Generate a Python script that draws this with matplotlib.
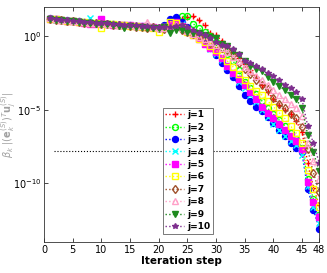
import numpy as np
import matplotlib
matplotlib.use("Agg")
import matplotlib.pyplot as plt

# log10 of beta_k |(e_k)^T u_j| per iteration step
steps = list(range(1, 49))

j1 = [1.22, 1.15, 1.10, 1.08, 1.04, 1.00, 0.97, 0.95, 0.90, 0.88,
      0.85, 0.82, 0.80, 0.76, 0.74, 0.70, 0.68, 0.66, 0.62, 0.60,
      0.62, 0.70, 0.95, 1.20, 1.30, 1.35, 1.10, 0.75, 0.20, 0.07,
      -0.30, -0.70, -1.10, -1.50, -1.90, -2.30, -2.80, -3.30, -3.80, -4.30,
      -4.70, -5.00, -5.30, -5.80, -6.50, -8.60, -10.30, -11.50]
j2 = [1.20, 1.16, 1.12, 1.06, 1.05, 1.01, 0.96, 0.93, 0.91, 0.87,
      0.86, 0.80, 0.79, 0.77, 0.72, 0.71, 0.66, 0.64, 0.63, 0.58,
      0.65, 0.85, 1.10, 1.35, 1.35, 0.85, 0.55, 0.30, 0.00, -0.40,
      -0.80, -1.20, -1.70, -2.30, -3.10, -3.50, -3.90, -4.40, -4.90, -5.30,
      -5.70, -6.10, -6.60, -7.00, -7.60, -9.70, -11.10, -12.20]
j3 = [1.21, 1.14, 1.11, 1.07, 1.03, 1.02, 0.96, 0.94, 0.89, 0.86,
      0.84, 0.81, 0.78, 0.75, 0.73, 0.69, 0.67, 0.63, 0.61, 0.59,
      0.75, 1.20, 1.30, 1.00, 0.60, 0.30, 0.00, -0.40, -0.80, -1.30,
      -1.80, -2.30, -2.80, -3.40, -4.00, -4.40, -4.80, -5.10, -5.50, -5.90,
      -6.40, -6.80, -7.30, -7.60, -7.90, -10.40, -11.80, -13.10]
j4 = [1.19, 1.13, 1.09, 1.06, 1.02, 0.99, 0.95, 1.25, 0.90, 0.86,
      0.83, 0.81, 0.77, 0.74, 0.72, 0.68, 0.65, 0.62, 0.60, 0.57,
      0.60, 0.75, 0.95, 0.80, 0.50, 0.20, -0.10, -0.50, -0.90, -1.20,
      -1.60, -2.10, -2.60, -3.10, -3.50, -4.00, -4.50, -5.00, -5.50, -6.00,
      -6.40, -6.80, -7.10, -7.40, -8.10, -10.20, -11.60, -12.70]
j5 = [1.20, 1.15, 1.10, 1.05, 1.04, 1.00, 0.90, 0.85, 0.80, 1.20,
      0.84, 0.79, 0.78, 0.74, 0.73, 0.69, 0.67, 0.64, 0.61, 0.58,
      0.62, 0.80, 1.00, 0.70, 0.40, 0.10, -0.20, -0.50, -0.80, -1.10,
      -1.50, -2.00, -2.50, -2.90, -3.30, -3.80, -4.30, -4.80, -5.20, -5.60,
      -6.00, -6.40, -6.80, -7.10, -7.70, -9.90, -11.30, -12.30]
j6 = [1.18, 1.14, 1.09, 1.05, 1.02, 0.98, 0.94, 0.90, 0.88, 0.55,
      0.82, 0.80, 0.76, 0.73, 0.71, 0.67, 0.65, 0.60, 0.55, 0.30,
      0.60, 1.00, 0.90, 0.60, 0.30, 0.10, -0.20, -0.40, -0.70, -0.95,
      -1.30, -1.70, -2.10, -2.60, -3.00, -3.40, -3.70, -4.00, -4.40, -4.80,
      -5.20, -5.60, -6.10, -6.60, -7.30, -9.10, -10.40, -11.60]
j7 = [1.19, 1.13, 1.08, 1.03, 1.03, 0.99, 0.93, 0.92, 0.87, 0.85,
      0.81, 0.78, 0.74, 0.70, 0.69, 0.66, 0.62, 0.56, 0.60, 0.55,
      0.50, 0.55, 0.60, 0.45, 0.30, 0.15, 0.00, -0.20, -0.45, -0.60,
      -0.80, -0.95, -1.30, -1.80, -2.20, -2.60, -3.00, -3.30, -3.60, -4.20,
      -4.60, -4.90, -5.30, -5.60, -6.20, -7.70, -9.30, -10.60]
j8 = [1.24, 1.16, 1.12, 1.07, 1.05, 1.01, 0.97, 0.93, 0.90, 0.87,
      0.85, 0.82, 0.79, 0.75, 0.74, 0.72, 0.69, 1.00, 0.62, 0.58,
      0.55, 0.60, 0.75, 0.55, 0.35, 0.15, -0.05, -0.20, -0.40, -0.60,
      -0.80, -1.10, -1.40, -1.70, -2.10, -2.40, -2.70, -3.00, -3.30, -3.65,
      -4.00, -4.30, -4.60, -4.90, -5.40, -7.30, -8.50, -9.70]
j9 = [1.18, 1.12, 1.07, 1.04, 1.01, 0.97, 0.92, 0.89, 0.86, 0.83,
      0.80, 0.76, 0.72, 0.55, 0.70, 0.65, 0.62, 0.58, 0.56, 0.55,
      0.60, 0.25, 0.45, 0.40, 0.30, 0.25, 0.20, 0.10, -0.05, -0.15,
      -0.50, -0.70, -1.00, -1.30, -1.70, -2.00, -2.20, -2.40, -2.80, -3.10,
      -3.40, -3.65, -4.00, -4.30, -4.90, -6.70, -7.90, -9.20]
j10 = [1.22, 1.17, 1.13, 1.09, 1.06, 1.03, 0.98, 0.96, 0.92, 0.90,
       0.87, 0.84, 0.81, 0.78, 0.76, 0.73, 0.71, 0.68, 0.64, 0.62,
       0.60, 0.65, 0.70, 0.75, 0.60, 0.40, 0.20, 0.05, -0.15, -0.40,
       -0.60, -0.70, -0.90, -1.20, -1.70, -1.80, -2.00, -2.20, -2.50, -2.70,
       -3.00, -3.30, -3.50, -3.80, -4.30, -6.10, -7.30, -8.60]

series = [j1, j2, j3, j4, j5, j6, j7, j8, j9, j10]
labels = [f"j={i}" for i in range(1, 11)]

# threshold line
thresh_level = 10 ** -7.8
thresh_x = [1.8, 43.5]

colors = ["#ff0000", "#00ff00", "#0000ff", "#00ffff", "#ff00ff",
          "#ffff00", "#a0522d", "#ffa0c8", "#1f8a1f", "#7e2f8e"]
markers = ["+", "o", "o", "x", "s", "s", "d", "^", "v", "*"]
filled = [True, False, True, True, True, False, False, False, True, True]

fig = plt.figure(figsize=(3.27, 2.73), dpi=100)
ax = fig.add_axes([0.135, 0.114, 0.841, 0.861])

for ys, lab, c, m, f in zip(series, labels, colors, markers, filled):
    ax.semilogy(steps, 10 ** np.array(ys), linestyle=":", linewidth=1.0,
                color=c, marker=m, markersize=4.3, markeredgewidth=1.0,
                markerfacecolor=c if f else "none", markeredgecolor=c,
                label=lab)

ax.plot(thresh_x, [thresh_level, thresh_level], ":", color="black", linewidth=0.8)

ax.set_xlim(0, 48)
ax.set_ylim(1e-14, 1e2)
ax.set_xticks([0, 5, 10, 15, 20, 25, 30, 35, 40, 45, 48])
ax.set_yticks([1e0, 1e-5, 1e-10])
ax.yaxis.set_minor_locator(matplotlib.ticker.NullLocator())
ax.tick_params(direction="in", top=True, right=True, labelsize=7, length=3,
               width=0.5, pad=2)
for s in ax.spines.values():
    s.set_linewidth(0.6)
    s.set_color("#333333")

ax.set_xlabel("Iteration step", fontsize=7.5, fontweight="bold", labelpad=1)
ax.set_ylabel(r"$\beta_k\ |(\mathbf{e}_k^{(S)})^T\mathbf{u}_j^{(S)}|$",
              fontsize=7, color="#a0a0a0")
ax.yaxis.set_label_coords(-0.095, 0.5)

leg = ax.legend(loc="lower left", bbox_to_anchor=(0.415, 0.015),
                prop={"weight": "bold", "size": 6.5}, handlelength=2.0,
                handletextpad=0.4, labelspacing=0.38, borderpad=0.3,
                fancybox=False, framealpha=1, edgecolor="#444444")
leg.get_frame().set_linewidth(0.5)

fig.savefig("out.png", dpi=100)
